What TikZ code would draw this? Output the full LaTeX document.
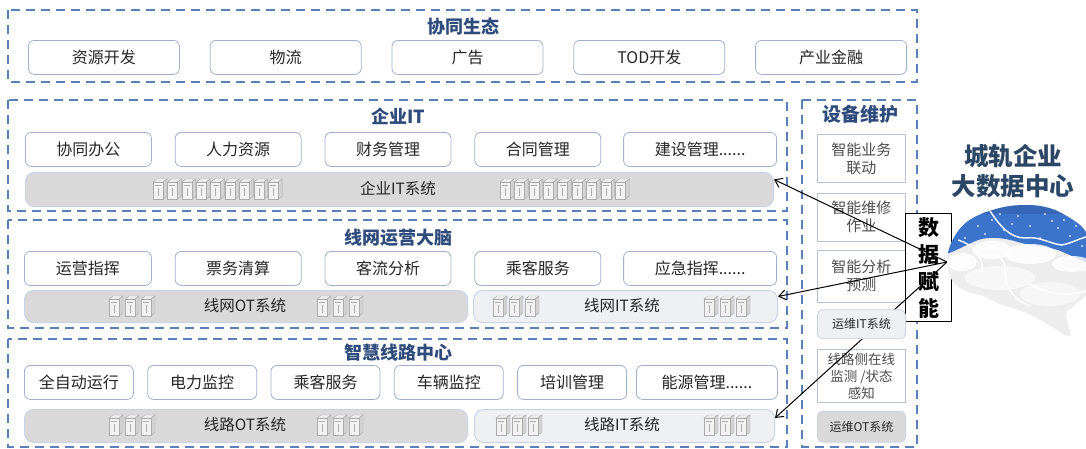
\documentclass[tikz,border=0pt]{standalone}
\usepackage{fontspec}
\setmainfont{Noto Sans CJK SC}
\usetikzlibrary{arrows.meta,positioning}

\definecolor{zoneblue}{HTML}{5B7FB8}
\definecolor{titleblue}{HTML}{2E4B7C}
\definecolor{itemline}{HTML}{A3B1CC}
\definecolor{itemtext}{HTML}{262626}
\definecolor{barline}{HTML}{C9D3E6}
\definecolor{otgray}{HTML}{D9D9D9}
\definecolor{itgray}{HTML}{EEF0F4}
\definecolor{sideline}{HTML}{B8C3D9}
\definecolor{sidetext}{HTML}{4D4D4D}
\definecolor{navy}{HTML}{2C4766}
\definecolor{brainblue}{HTML}{3C74CC}

% a row of small server towers, #1 = left x, #2 = centre y, #3 = count, #4 = pitch
\newcommand{\serverrow}[4]{%
  \foreach \k [evaluate=\k as \sx using #1+(\k-1)*#4] in {1,...,#3}{%
    \filldraw[servericon,fill=gray!12] (\sx,#2-7) -- (\sx+4,#2-10) -- (\sx+14,#2-10) -- (\sx+10,#2-7) -- cycle;
    \filldraw[servericon,fill=gray!35] (\sx+10,#2-7) -- (\sx+14,#2-10) -- (\sx+14,#2+7) -- (\sx+10,#2+10) -- cycle;
    \filldraw[servericon,fill=white!90!gray] (\sx,#2-7) rectangle (\sx+10,#2+10);
    \draw[servericon] (\sx+2,#2-4) -- (\sx+8,#2-4);
    \draw[servericon] (\sx+5,#2-1) -- (\sx+5,#2+7);
  }%
}

\begin{document}
\begin{tikzpicture}[x=1pt,y=-1pt]

\tikzstyle{zone}=[draw=zoneblue,line width=2.2pt,dash pattern=on 9pt off 6pt]
\tikzstyle{itemnode}=[rectangle,inner sep=0pt,minimum height=34pt,rounded corners=6pt,draw=itemline,line width=0.8pt,fill=white,text=itemtext,font=\fontsize{16}{18}\selectfont]
\tikzstyle{otbar}=[rectangle,inner sep=0pt,minimum height=33pt,rounded corners=9pt,draw=barline,line width=1pt,fill=otgray]
\tikzstyle{itbar}=[otbar,fill=itgray]
\tikzstyle{barlabel}=[inner sep=0pt,text=itemtext,font=\fontsize{15.5}{17}\selectfont]
\tikzstyle{titlenode}=[inner sep=0pt,text=titleblue,font=\fontsize{18}{20}\selectfont\bfseries]
\tikzstyle{sidebox}=[rectangle,inner sep=0pt,minimum width=88pt,draw=sideline,line width=0.8pt,fill=white,text=sidetext,align=center,font=\fontsize{15}{18}\selectfont]
\tikzstyle{sidesys}=[sidebox,rounded corners=5pt,draw=barline,text=itemtext,font=\fontsize{12}{14}\selectfont]
\tikzstyle{servericon}=[draw=gray!65,line width=0.45pt]
\tikzstyle{feed}=[draw=black,line width=1pt,-{Straight Barb[length=7pt,width=10pt]}]

\useasboundingbox (0,0) rectangle (1086,448);
\fill[white] (0,0) rectangle (1086,448);

% the four dashed zones and the maintenance column
\draw[zone] (8,10) rectangle (917,82);
\draw[zone] (8,100) rectangle (787,211);
\draw[zone] (8,220) rectangle (787,328);
\draw[zone] (8,339) rectangle (787,447);
\draw[zone] (802,100) rectangle (917,447);

% ecosystem
\node [anchor=north west,itemnode,minimum width=151pt] (s1) at (28,40){资源开发};
\node [anchor=north west,itemnode,minimum width=151pt] (s2) at ([xshift=30pt]s1.north east){物流};
\node [anchor=north west,itemnode,minimum width=151pt] (s3) at ([xshift=30pt]s2.north east){广告};
\node [anchor=north west,itemnode,minimum width=151pt] (s4) at ([xshift=30pt]s3.north east){TOD开发};
\node [anchor=north west,itemnode,minimum width=151pt] (s5) at ([xshift=30pt]s4.north east){产业金融};

% enterprise IT
\node [anchor=north west,itemnode,minimum width=126pt] (e1) at (25,132){协同办公};
\node [anchor=north west,itemnode,minimum width=126pt] (e2) at ([xshift=23pt]e1.north east){人力资源};
\node [anchor=north west,itemnode,minimum width=126pt] (e3) at ([xshift=23pt]e2.north east){财务管理};
\node [anchor=north west,itemnode,minimum width=126pt] (e4) at ([xshift=23pt]e3.north east){合同管理};
\node [anchor=north west,itemnode,minimum width=153pt] (e5) at ([xshift=22pt]e4.north east){建设管理......};
\node [anchor=north west,otbar,minimum width=748pt,minimum height=34pt] (ebar) at (25,172){};
\node [barlabel] (ebarl) at (398,189){企业IT系统};
\serverrow{153}{189}{9}{14.4}
\serverrow{500}{189}{9}{14.4}

% network operation
\node [anchor=north west,itemnode,minimum width=127pt] (w1) at (24,251){运营指挥};
\node [anchor=north west,itemnode,minimum width=126pt] (w2) at ([xshift=23pt]w1.north east){票务清算};
\node [anchor=north west,itemnode,minimum width=126pt] (w3) at ([xshift=23pt]w2.north east){客流分析};
\node [anchor=north west,itemnode,minimum width=126pt] (w4) at ([xshift=23pt]w3.north east){乘客服务};
\node [anchor=north west,itemnode,minimum width=153pt] (w5) at ([xshift=22pt]w4.north east){应急指挥......};
\node [anchor=north west,otbar,minimum width=443pt,minimum height=32pt] (wot) at (24,290){};
\node [anchor=north west,itbar,minimum width=304pt,minimum height=32pt] (wit) at ([xshift=5pt]wot.north east){};
\node [barlabel] (wotl) at (245,306){线网OT系统};
\node [barlabel] (witl) at (622,306){线网IT系统};
\serverrow{109}{306}{3}{16}
\serverrow{317}{306}{3}{16}
\serverrow{493}{306}{3}{16}
\serverrow{704}{306}{3}{16}

% line centre
\node [anchor=north west,itemnode,minimum width=109pt] (z1) at (24,365){全自动运行};
\node [anchor=north west,itemnode,minimum width=109pt] (z2) at ([xshift=13.5pt]z1.north east){电力监控};
\node [anchor=north west,itemnode,minimum width=109pt] (z3) at ([xshift=13.5pt]z2.north east){乘客服务};
\node [anchor=north west,itemnode,minimum width=109pt] (z4) at ([xshift=13.5pt]z3.north east){车辆监控};
\node [anchor=north west,itemnode,minimum width=109pt] (z5) at ([xshift=13.5pt]z4.north east){培训管理};
\node [anchor=north west,itemnode,minimum width=141pt] (z6) at ([xshift=9pt]z5.north east){能源管理......};
\node [anchor=north west,otbar,minimum width=443pt] (lot) at (24,409){};
\node [anchor=north west,itbar,minimum width=300pt] (lit) at ([xshift=6pt]lot.north east){};
\node [barlabel] (lotl) at (245,425){线路OT系统};
\node [barlabel] (litl) at (622,425){线路IT系统};
\serverrow{109}{425}{3}{16}
\serverrow{317}{425}{3}{16}
\serverrow{496}{425}{3}{16}
\serverrow{704}{425}{3}{16}

% maintenance column
\node [anchor=north west,sidebox,minimum height=48pt] (d1) at (817,134){智能业务\\联动};
\node [anchor=north west,sidebox,minimum height=48pt] (d2) at ([yshift=-10pt]d1.south west){智能维修\\作业};
\node [anchor=north west,sidebox,minimum height=52pt] (d3) at ([yshift=-8pt]d2.south west){智能分析\\预测};
\node [anchor=north west,sidebox,minimum height=53pt,font=\fontsize{13.5}{17}\selectfont] (d4) at (817,349){线路侧在线\\监测 /状态\\感知};
\node [anchor=north west,sidesys,minimum height=31pt,fill=otgray] (dot) at ([yshift=-8pt]d4.south west){运维OT系统};

\node [anchor=north west,rectangle,inner sep=0pt,minimum width=46pt,minimum height=108pt,draw=black,line width=1.2pt,fill=white,align=center,font=\fontsize{21}{27}\selectfont\bfseries] (enable) at (905,213){数\\据\\赋\\能};

% data feeds from the big data centre
\coordinate (hub) at (947,262);
\draw[feed] (hub) -- ([yshift=10pt]ebar.east);
\draw[feed] (hub) -- ([yshift=10pt]wit.east);
\draw[feed] (hub) -- ([yshift=8pt]lit.east);

\node [anchor=north west,sidesys,minimum height=29pt,fill=itgray] (dit) at ([yshift=-7pt]d3.south west){运维IT系统};

% titles
\node [titlenode] (t0) at (463,27){协同生态};
\node [titlenode] (t1) at (398,116){企业IT};
\node [titlenode] (t2) at (398,238){线网运营大脑};
\node [titlenode] (t3) at (398,353){智慧线路中心};
\node [titlenode,font=\fontsize{19}{21}\selectfont\bfseries] (t4) at (860,114){设备维护};
\node [inner sep=0pt,align=center,text=navy,font=\fontsize{24.5}{30}\selectfont\bfseries] (bigdata) at (1013,171){城轨企业\\大数据中心};

% brain: blue sky on top, clouds below
\def\brainpath{plot [smooth cycle,tension=0.55] coordinates {(947,262) (950,246) (958,231) (968,221) (981,214) (996,209) (1010,206) (1025,205) (1040,206) (1055,210) (1070,218) (1083,228) (1092,245) (1094,270) (1088,292) (1075,305) (1066,314) (1070,336) (1054,328) (1040,320) (1022,311) (1002,305) (983,296) (966,291) (953,282)}}
\begin{scope}
\clip \brainpath;
\fill[gray!14] (940,200) rectangle (1100,340);
\fill[brainblue] (940,200) -- (1100,200) -- (1100,268) .. controls (1085,262) and (1070,255) .. (1058,250) .. controls (1045,246) and (1030,246) .. (1018,242) .. controls (1005,238) and (990,236) .. (978,240) .. controls (965,245) and (955,252) .. (940,256) -- cycle;
\fill[brainblue!70!black,opacity=0.35] (940,200) rectangle (1100,214);
\fill[white,opacity=0.9] (962,262) ellipse (15 and 9);
\fill[white,opacity=0.85] (992,250) ellipse (20 and 9);
\fill[white,opacity=0.85] (1030,254) ellipse (26 and 10);
\fill[white,opacity=0.8] (1072,264) ellipse (20 and 8);
\fill[white,opacity=0.6] (1000,278) ellipse (35 and 12);
\fill[white,opacity=0.5] (1050,294) ellipse (30 and 12);
\foreach \px/\py in {965/238,978/226,992/220,1004/230,1018/216,1030/226,1045/214,1058/228,1070/236,1082/246,1040/238,1000/214,1064/220,985/234,1012/224,1052/221,1076/226}
  \fill[white,opacity=0.75] (\px,\py) circle (1.1);
\end{scope}
\draw[white,line width=1.4pt] (958,240) .. controls (972,244) and (984,255) .. (982,272);
\draw[white,line width=1.4pt] (990,211) .. controls (1000,226) and (1010,238) .. (1025,238) .. controls (1040,236) and (1050,244) .. (1062,245) .. controls (1072,243) and (1080,238) .. (1090,236);
\draw[white,line width=1.4pt] (978,258) .. controls (992,250) and (1005,256) .. (1005,270) .. controls (1005,290) and (1015,300) .. (1030,306);
\draw[white,line width=1.4pt] (1028,284) .. controls (1045,290) and (1062,300) .. (1088,290);

\end{tikzpicture}
\end{document}
